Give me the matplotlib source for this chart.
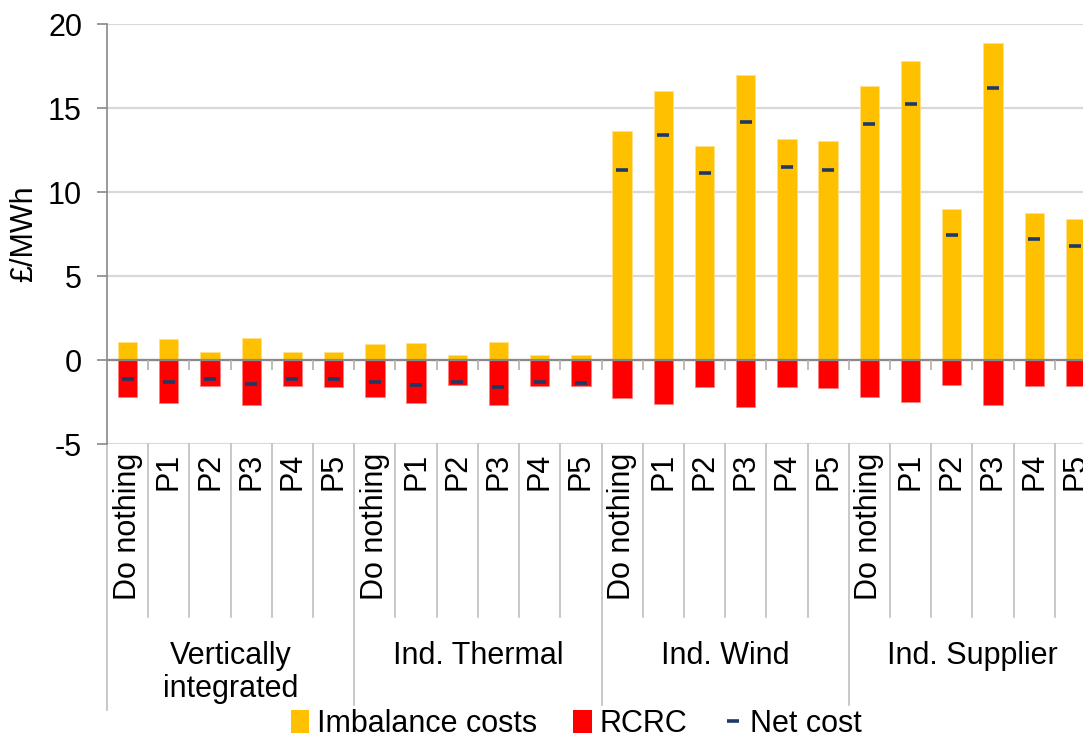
import numpy as np
import matplotlib.pyplot as plt
import matplotlib.transforms as mtransforms
from matplotlib.patches import Patch
from matplotlib.lines import Line2D

plt.rcParams['font.family'] = ['Liberation Sans', 'DejaVu Sans']
plt.rcParams['axes.unicode_minus'] = False

groups = ["Vertically\nintegrated", "Ind. Thermal", "Ind. Wind", "Ind. Supplier"]
options = ["Do nothing", "P1", "P2", "P3", "P4", "P5"]

# £/MWh, one value per option within each group
imbalance = [1.09, 1.25, 0.50, 1.33, 0.50, 0.50,
             0.97, 1.03, 0.28, 1.09, 0.28, 0.28,
             13.61, 16.03, 12.74, 16.96, 13.13, 13.01,
             16.31, 17.78, 8.99, 18.89, 8.75, 8.41]
rcrc = [-2.20, -2.54, -1.57, -2.66, -1.57, -1.60,
        -2.20, -2.56, -1.49, -2.66, -1.55, -1.55,
        -2.26, -2.62, -1.61, -2.78, -1.61, -1.69,
        -2.22, -2.50, -1.51, -2.68, -1.57, -1.57]
net_cost = [-1.14, -1.33, -1.11, -1.40, -1.12, -1.13,
            -1.28, -1.50, -1.30, -1.62, -1.31, -1.35,
            11.31, 13.37, 11.11, 14.15, 11.47, 11.33,
            14.07, 15.26, 7.44, 16.22, 7.18, 6.80]

YELLOW = "#FFC000"
RED = "#FF0000"
NAVY = "#1F3864"
AXIS_GREY = "#898989"
GRID_GREY = "#D9D9D9"
FS = 22

n = len(imbalance)
x = np.arange(n)

W, H = 1083, 738
fig = plt.figure(figsize=(W / 100, H / 100), dpi=100)
# category axis runs a little past the right edge of the canvas
ax = fig.add_axes([107 / W, 1 - 444 / H, 989 / W, 420 / H])

ax.bar(x, imbalance, width=0.47, color=YELLOW, edgecolor="#FFE08A",
       linewidth=0.6, zorder=3)
ax.bar(x, rcrc, width=0.47, color=RED, edgecolor="#FF8080",
       linewidth=0.6, zorder=3)
ax.plot(x, net_cost, ls="none", marker="_", ms=9, mew=2.6, color=NAVY,
        zorder=5)

ax.set_xlim(-0.5, n - 0.5)
ax.set_ylim(-5, 20)
ax.set_yticks(np.arange(-5, 21, 5))
ax.tick_params(axis="y", labelsize=FS, length=7, width=1.2,
               color=AXIS_GREY, pad=11)
ax.set_xticks([])
ax.set_ylabel("£/MWh", fontsize=FS, labelpad=6)

for s in ["top", "right", "bottom"]:
    ax.spines[s].set_visible(False)
ax.spines["left"].set_color(AXIS_GREY)
ax.spines["left"].set_linewidth(1.2)

ax.yaxis.grid(True, color=GRID_GREY, lw=1.6, zorder=0)
ax.set_axisbelow(True)
ax.axhline(0, color=AXIS_GREY, lw=1.6, zorder=4)

# category tick marks on the zero line
bounds = np.arange(0.5, n - 0.5, 1.0)
ax.vlines(bounds, -0.6, 0, color="#B0B0B0", lw=1.2, zorder=4)

# category table below the plot
trans = mtransforms.blended_transform_factory(ax.transData, ax.transAxes)
y_small = -(617 - 444) / 420
y_group = -(705 - 444) / 420
y_axis = -(710 - 444) / 420
for b in bounds:
    if (b + 0.5) % 6 == 0:
        continue
    ax.add_line(Line2D([b, b], [0, y_small], transform=trans, color="#BFBFBF",
                       lw=1.2, clip_on=False))
for b in [5.5, 11.5, 17.5]:
    ax.add_line(Line2D([b, b], [0, y_group], transform=trans, color="#BFBFBF",
                       lw=1.2, clip_on=False))
ax.add_line(Line2D([-0.5, -0.5], [0, y_axis], transform=trans,
                   color="#BFBFBF", lw=1.2, clip_on=False))

y_cat = -(453 - 444) / 420
for i in range(n):
    ax.text(x[i], y_cat, options[i % 6], transform=trans, rotation=90,
            ha="center", va="top", fontsize=FS)

for g, name in enumerate(groups):
    xc = g * 6 + 2.5
    ax.text(xc, -(641 - 444) / 420, name, transform=trans, ha="center",
            va="top", fontsize=FS, linespacing=1.15)

handles = [Patch(facecolor=YELLOW, edgecolor="none"),
           Patch(facecolor=RED, edgecolor="none"),
           Line2D([], [], ls="none", marker="_", ms=8, mew=2.6, color=NAVY)]
fig.legend(handles, ["Imbalance costs", "RCRC", "Net cost"], loc="center",
           bbox_to_anchor=(576 / W, 1 - 724 / H), ncol=3, frameon=False,
           fontsize=FS, handlelength=0.6, handleheight=0.8,
           handletextpad=0.25, columnspacing=1.2, borderpad=0)

fig.savefig("out.png", dpi=100)
